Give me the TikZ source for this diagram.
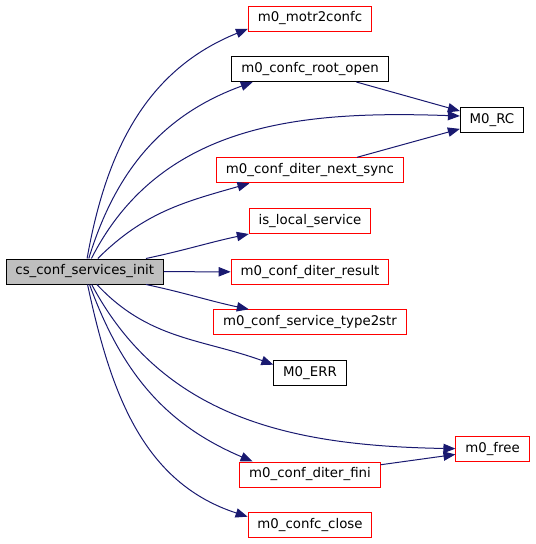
\documentclass[tikz,border=0pt]{standalone}
\usepackage{fontspec}
\setmainfont{DejaVu Sans}
\usetikzlibrary{arrows.meta}
\definecolor{EdgeClr}{rgb}{0.098,0.098,0.439}
\definecolor{LinkClr}{rgb}{1,0,0}
\definecolor{RootClr}{rgb}{0.749,0.749,0.749}

\tikzset{
  fn/.style={draw=black,line width=0.75pt,fill=white,minimum height=18.75pt,
    inner xsep=7pt,inner ysep=0pt,font=\fontsize{10pt}{12pt}\selectfont},
  fnred/.style={fn,draw=LinkClr},
  fnroot/.style={fn,fill=RootClr},
  call/.style={draw=EdgeClr,line width=0.75pt,-{Triangle[length=9pt,width=7pt]}}
}

\begin{document}
\begin{tikzpicture}[x=0.75pt,y=0.75pt]
\useasboundingbox (0,0) rectangle (536,-544);

% callers and callees
\node[fnroot] (csinit)   at (84.8,-271.5) {cs\_conf\_services\_init};
\node[fnred]  (motr)     at (310,-18.5)   {m0\_motr2confc};
\node[fn]     (rootopen) at (310,-69)     {m0\_confc\_root\_open};
\node[fn]     (rc)       at (492,-120)    {M0\_RC};
\node[fnred]  (nextsync) at (310,-170.3)  {m0\_conf\_diter\_next\_sync};
\node[fnred]  (islocal)  at (310,-221)    {is\_local\_service};
\node[fnred]  (dresult)  at (310,-272)    {m0\_conf\_diter\_result};
\node[fnred]  (type2str) at (310,-322.3)  {m0\_conf\_service\_type2str};
\node[fn]     (err)      at (310,-373)    {M0\_ERR};
\node[fnred]  (free)     at (492.5,-449.3){m0\_free};
\node[fnred]  (dfini)    at (310,-474.5)  {m0\_conf\_diter\_fini};
\node[fnred]  (close)    at (310,-525)    {m0\_confc\_close};

% calls
\draw[call] (csinit) to[out=80,in=202] ([yshift=2pt]motr.south west);
\draw[call] (csinit) to[out=73,in=200] ([xshift=16pt]rootopen.south west);
\draw[call] (csinit) to[out=63,in=178] ([yshift=3pt]rc.west);
\draw[call] (csinit) to[out=45,in=196] ([xshift=25pt]nextsync.south west);
\draw[call] (csinit) to[out=12,in=192] (islocal);
\draw[call] (csinit) -- (dresult);
\draw[call] (csinit) to[out=-12,in=168] (type2str);
\draw[call] (csinit) to[out=-47,in=160] ([yshift=-3.5pt]err.north west);
\draw[call] (csinit) to[out=-62,in=179] (free);
\draw[call] (csinit) to[out=-70,in=157] ([xshift=10pt]dfini.north west);
\draw[call] (csinit) to[out=-78,in=162] ([yshift=-3.5pt]close.north west);
\draw[call] (rootopen) -- (rc);
\draw[call] (nextsync) -- (rc);
\draw[call] (dfini) -- (free);

\end{tikzpicture}
\end{document}
